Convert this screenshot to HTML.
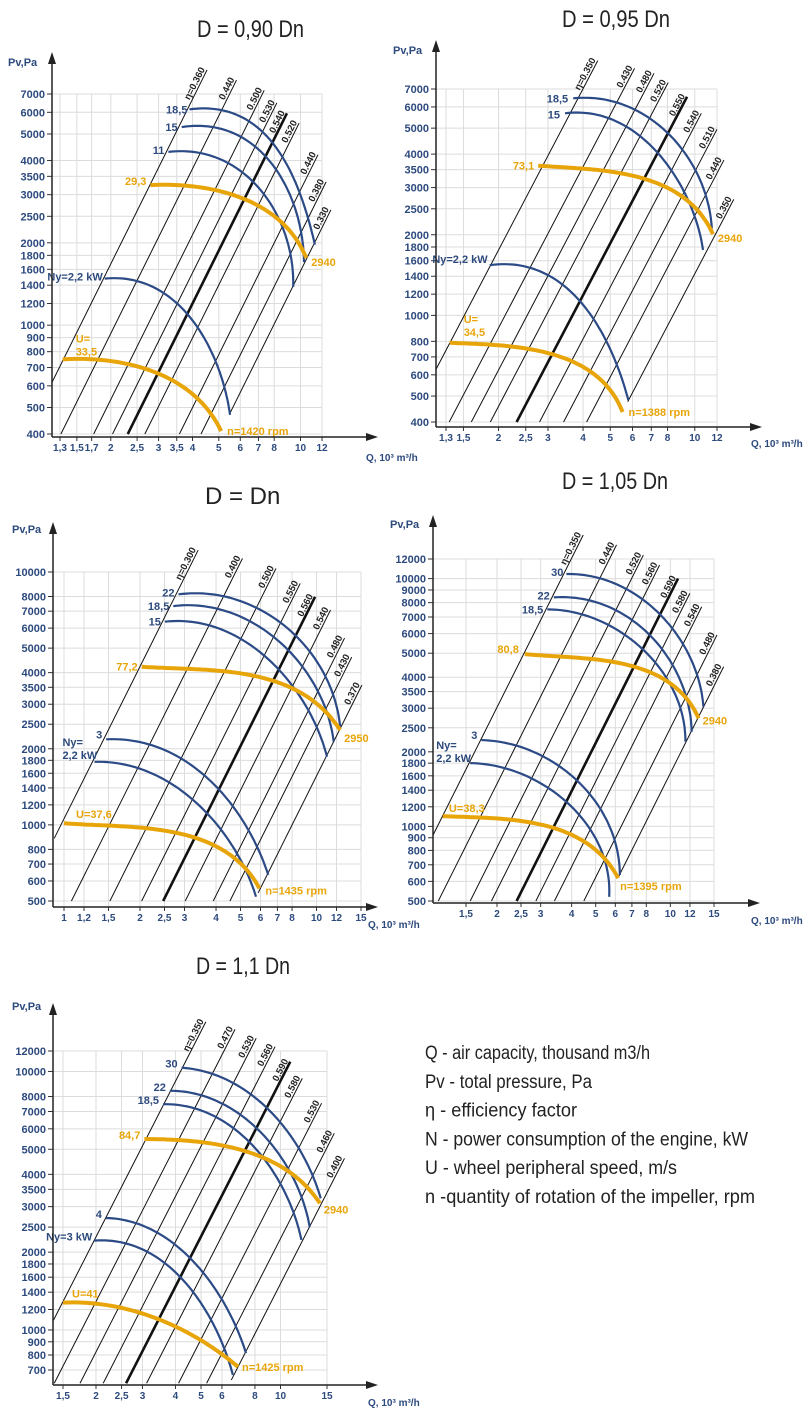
<!DOCTYPE html>
<html><head><meta charset="utf-8"><title>Fan performance charts</title>
<style>
html,body{margin:0;padding:0;background:#fff;}
svg{display:block;font-family:"Liberation Sans",sans-serif;}
</style></head>
<body>
<svg id="root" width="812" height="1418" viewBox="0 0 812 1418" xmlns="http://www.w3.org/2000/svg"></svg>
<script>
// ---------- DATA ----------
const c1_xTicks=[1.3,1.5,1.7,2,2.5,3,3.5,4,5,6,7,8,10,12];
const c1_yTicks=[400,500,600,700,800,900,1000,1200,1400,1600,1800,2000,2500,3000,3500,4000,5000,6000,7000];
const c1_effLabels=["η=0.360","0.440","0.500","0.530","0.540","0.520","0.440","0.380","0.330"];
const c1_effStartQ=[1.21,1.31,1.73,2.03,2.31,2.67,3.58,4.30,5.5];
const c1_effStartP=[613,400,400,400,400,400,400,400,477];
const c1_effEndP=[8570,7870,7220,6500,5950,5480,4200,3340,2640];
const c1_n185=[[3.9,6150],[5,6000],[6.7,5500],[8,4700],[9.4,3400],[10.5,2500],[11.3,1970]];
const c1_n15=[[3.65,5300],[5,5150],[7,4500],[8.5,3500],[9.7,2400],[10.3,1700]];
const c1_n11=[[3.26,4300],[4.5,4150],[6,3700],[7.5,3000],[8.7,2100],[9.4,1380]];
const c1_u293=[[2.8,3250],[4,3200],[6,2950],[8,2500],[9.5,2100],[10.5,1760]];
const c1_n22=[[1.9,1480],[2.5,1440],[3.2,1300],[4,1050],[4.8,750],[5.5,470]];
const c1_u335=[[1.33,750],[2,735],[3,670],[4,560],[4.6,480],[5.1,410]];

const c2_xTicks=[1.3,1.5,2,2.5,3,4,5,6,7,8,10,12];
const c2_yTicks=[400,500,600,700,800,1000,1200,1400,1600,1800,2000,2500,3000,3500,4000,5000,6000,7000];
const c2_effLabels=["η=0.350","0.430","0.480","0.520","0.550","0.540","0.510","0.440","0.350"];
const c2_effStartQ=[1.195,1.335,1.6,1.87,2.32,2.80,3.41,4.12,5.77];
const c2_effStartP=[626,400,400,400,400,400,400,400,476];
const c2_effEndP=[8930,8360,8010,7400,6550,5680,4950,3800,2710];
const c2_n185=[[3.69,6460],[5,6300],[7.1,5360],[8.5,4500],[9.9,3590],[11,2700],[11.5,2110]];
const c2_n15=[[3.45,5680],[5,5500],[7.1,4140],[8.5,3300],[9.9,2470],[10.7,1755]];
const c2_u731=[[2.77,3620],[4,3560],[5.25,3390],[7,3150],[8.4,2935],[10,2550],[11.6,2010]];
const c2_n22=[[1.86,1540],[2.8,1460],[3.89,1140],[4.6,900],[5.13,681],[5.8,483]];
const c2_u345=[[1.34,790],[2,775],[3.13,711],[4.36,608],[5,530],[5.53,436]];

const c3_xTicks=[1,1.2,1.5,2,2.5,3,4,5,6,7,8,10,12,15];
const c3_yTicks=[500,600,700,800,1000,1200,1400,1600,1800,2000,2500,3000,3500,4000,5000,6000,7000,8000,10000];
const c3_effLabels=["η=0.300","0.400","0.500","0.550","0.560","0.540","0.480","0.430","0.370"];
const c3_effStartQ=[0.915,1.07,1.52,2.03,2.47,3.02,3.9,4.54,5.87];
const c3_effStartP=[885,500,500,500,500,500,500,500,538];
const c3_effEndP=[12200,11320,10330,9010,7980,7080,5480,4610,3570];
const c3_n22=[[2.84,8160],[4.5,7900],[6.95,6460],[9,5200],[10.3,4220],[11.6,3200],[12.4,2450]];
const c3_n185=[[2.71,7330],[4.3,7100],[6.35,5720],[8.3,4600],[9.7,3630],[11.7,2130]];
const c3_n15=[[2.51,6360],[4,6150],[5.62,4910],[7.5,3900],[9.15,2930],[11,1860]];
const c3_u772=[[2.03,4220],[3.5,4130],[4.68,3970],[6.5,3780],[7.85,3520],[10,3000],[12.4,2370]];
const c3_n3=[[1.47,2180],[2.2,2080],[3.06,1750],[4,1450],[4.98,1080],[5.7,830],[6.44,634]];
const c3_n22kw=[[1.32,1775],[2,1690],[2.71,1415],[3.5,1170],[4.41,898],[5.76,520]];
const c3_u376=[[1,1015],[2,975],[2.79,927],[3.6,870],[4.41,771],[5.3,670],[5.94,561]];

const c4_xTicks=[1.5,2,2.5,3,4,5,6,7,8,10,12,15];
const c4_yTicks=[500,600,700,800,900,1000,1200,1400,1600,1800,2000,2500,3000,3500,4000,5000,6000,7000,8000,9000,10000,12000];
const c4_effLabels=["η=0.350","0.440","0.520","0.560","0.590","0.580","0.540","0.480","0.380"];
const c4_effStartQ=[1.105,1.16,1.56,1.9,2.40,2.87,3.41,4.48,6.2];
const c4_effStartP=[923,500,500,500,500,500,500,500,630];
const c4_effEndP=[15000,13680,12450,11350,10020,8720,7700,5920,4410];
const c4_n30=[[3.81,10440],[5.3,10000],[7.1,8720],[9.3,7000],[11.2,5480],[12.7,4200],[13.6,3040]];
const c4_n22=[[3.39,8400],[4.8,8100],[6.66,7020],[8.7,5700],[10.3,4410],[11.5,3300],[12.2,2410]];
const c4_n185=[[3.19,7510],[4.5,7250],[6.26,6010],[8,5000],[9.66,4010],[11,3000],[11.5,2200]];
const c4_u808=[[2.59,4960],[4,4850],[5.52,4620],[7.5,4330],[9.66,3900],[11.5,3350],[13,2730]];
const c4_n3=[[1.73,2230],[2.4,2150],[3.17,1850],[4.2,1520],[5.2,1240],[5.8,900],[6.26,637]];
const c4_n22kw=[[1.56,1800],[2.3,1720],[3.17,1400],[4.1,1170],[4.88,968],[5.4,720],[5.67,520]];
const c4_u383=[[1.21,1100],[2,1075],[2.81,1030],[3.7,960],[4.59,855],[5.4,750],[6.16,618]];

const c5_xTicks=[1.5,2,2.5,3,4,5,6,8,10,15];
const c5_yTicks=[700,800,900,1000,1200,1400,1600,1800,2000,2500,3000,3500,4000,5000,6000,7000,8000,10000,12000];
const c5_effLabels=["η=0.350","0.470","0.530","0.560","0.590","0.580","0.530","0.460","0.400"];
const c5_effStartQ=[1.38,1.39,1.74,2.13,2.60,3.11,4.11,5.25,6.51];
const c5_effStartP=[1090,622,622,622,622,622,622,622,640];
const c5_effEndP=[15570,14570,13440,12470,10910,9400,7540,5770,4610];
const c5_n30=[[4.22,10340],[5.5,9900],[7.22,8480],[9.3,6900],[11.2,5430],[12.9,4200],[14.2,3230]];
const c5_n22=[[3.81,8420],[5.3,8100],[7,6700],[9,5400],[10.6,4290],[12,3300],[12.9,2500]];
const c5_n185=[[3.59,7470],[5,7200],[6.62,5930],[8.4,4800],[9.93,3690],[11.2,2900],[12,2230]];
const c5_u847=[[3.05,5480],[4.5,5400],[6.25,5120],[8.3,4700],[10.6,4160],[12.5,3600],[14.1,3090]];
const c5_n4=[[2.18,2710],[3,2620],[3.92,2100],[5,1700],[5.9,1350],[6.8,1050],[7.4,813]];
const c5_n3kw=[[1.97,2215],[2.8,2150],[3.71,1760],[4.7,1380],[5.55,1060],[6.1,870],[6.6,670]];
const c5_u41=[[1.5,1275],[2.4,1240],[3.39,1090],[4.3,1000],[5.24,887],[6.1,800],[6.9,720]];

// ---------- RENDER ----------
const NS="http://www.w3.org/2000/svg";
const root=document.getElementById('root');
const BLUE="#2b4a86", LBL="#2d4a7d", ORANGE="#e8a50a";
function mk(tag,attrs,parent){const e=document.createElementNS(NS,tag);for(const k in attrs)e.setAttribute(k,attrs[k]);(parent||root).appendChild(e);return e;}
function fmt(v){return String(v).replace('.',',');}
// smooth least-squares cubic through pixel points (parametrized by chord length)
function solve(A,b){const n=b.length;for(let i=0;i<n;i++){let m=i;for(let r=i+1;r<n;r++)if(Math.abs(A[r][i])>Math.abs(A[m][i]))m=r;[A[i],A[m]]=[A[m],A[i]];[b[i],b[m]]=[b[m],b[i]];for(let r=i+1;r<n;r++){const f=A[r][i]/A[i][i];for(let c=i;c<n;c++)A[r][c]-=f*A[i][c];b[r]-=f*b[i];}}const x=new Array(n).fill(0);for(let i=n-1;i>=0;i--){let s=b[i];for(let c=i+1;c<n;c++)s-=A[i][c]*x[c];x[i]=s/A[i][i];}return x;}
function fit(ts,vs,deg){const n=deg+1;const A=[],b=[];for(let i=0;i<n;i++){A.push(new Array(n).fill(0));b.push(0);}
  ts.forEach((t,k)=>{const w=(k===0||k===ts.length-1)?30:1;for(let i=0;i<n;i++){for(let j=0;j<n;j++)A[i][j]+=w*Math.pow(t,i+j);b[i]+=w*vs[k]*Math.pow(t,i);}});return solve(A,b);}
function smoothPath(pts){
  const ts=[0];for(let i=1;i<pts.length;i++)ts.push(ts[i-1]+Math.hypot(pts[i][0]-pts[i-1][0],pts[i][1]-pts[i-1][1]));
  const T=ts[ts.length-1];const tn=ts.map(t=>t/T);
  const cx=fit(tn,pts.map(p=>p[0]),3),cy=fit(tn,pts.map(p=>p[1]),3);
  const ev=(c,t)=>c[0]+c[1]*t+c[2]*t*t+c[3]*t*t*t;
  let d="";for(let i=0;i<=60;i++){const t=i/60;d+=(i?" L":"M")+ev(cx,t).toFixed(1)+","+ev(cy,t).toFixed(1);}
  return {d,start:[ev(cx,0),ev(cy,0)],end:[ev(cx,1),ev(cy,1)]};
}
function drawChart(cfg){
  const g=mk('g',{});
  
  
  const X=q=>cfg.x0+(Math.log10(q)-Math.log10(cfg.q0))/(Math.log10(cfg.q1)-Math.log10(cfg.q0))*(cfg.x1-cfg.x0);
  const Y=p=>cfg.y0+(Math.log10(p)-Math.log10(cfg.p0))/(Math.log10(cfg.p1)-Math.log10(cfg.p0))*(cfg.y1-cfg.y0);
  const gx=X(cfg.xTicks[cfg.xTicks.length-1]), gy=Y(cfg.yTicks[cfg.yTicks.length-1]);
  const ta={x:cfg.tx,y:cfg.ty,'font-size':cfg.tfs||24,fill:'#222'};
  if(cfg.tw){ta.textLength=cfg.tw;ta.lengthAdjust='spacingAndGlyphs';}
  const t=mk('text',ta,g);
  t.textContent=cfg.title;
  
  
  const grid=mk('g',{stroke:'#dcdcdc','stroke-width':1},g);
  
  
  cfg.xTicks.forEach(q=>{mk('line',{x1:X(q),x2:X(q),y1:cfg.axY,y2:gy},grid);});
  cfg.yTicks.forEach(p=>{mk('line',{x1:cfg.axX,x2:gx,y1:Y(p),y2:Y(p)},grid);});
  const yl=mk('g',{fill:LBL,'font-size':11,'font-weight':'bold','text-anchor':'end'},g);
  
  
  cfg.yTicks.forEach(p=>{const tt=mk('text',{x:cfg.axX-7,y:Y(p)+4},yl);tt.textContent=p;mk('line',{x1:cfg.axX-5,x2:cfg.axX,y1:Y(p),y2:Y(p),stroke:'#333'},yl);});
  const xl=mk('g',{fill:LBL,'font-size':10,'font-weight':'bold','text-anchor':'middle'},g);
  
  
  cfg.xTicks.forEach(q=>{const tt=mk('text',{x:X(q),y:cfg.axY+14},xl);tt.textContent=fmt(q);mk('line',{x1:X(q),x2:X(q),y1:cfg.axY,y2:cfg.axY+4,stroke:'#333'},xl);});
  const el=mk('g',{},g);
  
  
  cfg.effLabels.forEach((lab,i)=>{
    const qs=cfg.effStartQ[i],ps=cfg.effStartP[i],pe=cfg.effEndP[i];
    const qe=qs*Math.sqrt(pe/ps);
    const xa=X(qs),ya=Y(ps),xb=X(qe),yb=Y(pe);
    const thick=(i===cfg.thick);
    const ln=mk('line',{x1:xa,y1:ya,x2:xb,y2:yb,stroke:'#111','stroke-width':thick?2.6:1},el);
    
    
    const ang=Math.atan2(yb-ya,xb-xa)*180/Math.PI;
    const tx=mk('text',{x:xb,y:yb,'font-size':9.5,'font-weight':'bold',fill:'#222','text-anchor':'end',transform:'rotate('+ang.toFixed(1)+' '+xb.toFixed(1)+' '+yb.toFixed(1)+') translate(0,-2)'},el);
    tx.textContent=lab;
    
    
  });
  cfg.curves.forEach(c=>{
    const pts=c.pts.map(d=>[X(d[0]),Y(d[1])]);
    const orange=c.kind==='u';
    const sp=smoothPath(pts);
    const p=mk('path',{d:sp.d,fill:'none',stroke:orange?ORANGE:BLUE,'stroke-width':orange?4:2.2},g);
    
    
    (c.labels||[]).forEach(L=>{
      const base=L.at==='end'?sp.end:sp.start;
      L.lines.forEach((s,k)=>{
        const tt=mk('text',{x:base[0]+L.dx,y:base[1]+L.dy+k*13,'font-size':11,'font-weight':'bold',fill:orange?ORANGE:LBL,'text-anchor':L.anchor||'end'},g);
        tt.textContent=s;
        
        
      });
    });
  });
  const ax=mk('g',{stroke:'#222','stroke-width':1.5,fill:'#222'},g);
  
  
  mk('line',{x1:cfg.axX,y1:cfg.axY,x2:cfg.axX,y2:cfg.topY+8},ax);
  mk('path',{d:`M${cfg.axX-4},${cfg.topY+12} L${cfg.axX},${cfg.topY} L${cfg.axX+4},${cfg.topY+12} Z`,stroke:'none'},ax);
  mk('line',{x1:cfg.axX,y1:cfg.axY,x2:cfg.rightX-8,y2:cfg.axY},ax);
  mk('path',{d:`M${cfg.rightX-12},${cfg.axY-4} L${cfg.rightX},${cfg.axY} L${cfg.rightX-12},${cfg.axY+4} Z`,stroke:'none'},ax);
  const yt=mk('text',{x:cfg.pvx,y:cfg.pvy,'font-size':11,'font-weight':'bold',fill:LBL},g);
  yt.textContent="Pv,Pa";
  
  
  const xt=mk('text',{x:cfg.qx,y:cfg.qy,'font-size':10,'font-weight':'bold',fill:LBL},g);
  xt.textContent="Q, 10³ m³/h";
  
  
}
const L=(lines,dx,dy,at,anchor)=>({lines,dx,dy,at:at||'start',anchor});

drawChart({name:'chart-d090',title:'D = 0,90 Dn',tx:197,ty:37,tw:107,
  q0:1.3,q1:12,x0:60,x1:322,p0:400,p1:7000,y0:434,y1:94,axX:52,axY:437,topY:52,rightX:378,
  pvx:8,pvy:66,qx:366,qy:461,xTicks:c1_xTicks,yTicks:c1_yTicks,
  effLabels:c1_effLabels,effStartQ:c1_effStartQ,effStartP:c1_effStartP,effEndP:c1_effEndP,thick:4,
  curves:[
   {id:'curve-n18-5',kind:'n',pts:c1_n185,labels:[L(['18,5'],-2,4)]},
   {id:'curve-n15',kind:'n',pts:c1_n15,labels:[L(['15'],-4,4)]},
   {id:'curve-n11',kind:'n',pts:c1_n11,labels:[L(['11'],-4,2)]},
   {id:'curve-u29-3',kind:'u',pts:c1_u293,labels:[L(['29,3'],-4,0),L(['2940'],5,8,'end','start')]},
   {id:'curve-n2-2',kind:'n',pts:c1_n22,labels:[L(['Ny=2,2 kW'],-2,2)]},
   {id:'curve-u33-5',kind:'u',pts:c1_u335,labels:[L(['U=','33,5'],13,-17,'start','start'),L(['n=1420 rpm'],6,4,'end','start')]}
  ]});
drawChart({name:'chart-d095',title:'D = 0,95 Dn',tx:562,ty:27,tw:108,
  q0:1.3,q1:12,x0:446,x1:717,p0:400,p1:7000,y0:422,y1:89,axX:436,axY:427,topY:40,rightX:762,
  pvx:393,pvy:54,qx:751,qy:447,xTicks:c2_xTicks,yTicks:c2_yTicks,
  effLabels:c2_effLabels,effStartQ:c2_effStartQ,effStartP:c2_effStartP,effEndP:c2_effEndP,thick:4,
  curves:[
   {id:'curve-n18-5',kind:'n',pts:c2_n185,labels:[L(['18,5'],-5,4)]},
   {id:'curve-n15',kind:'n',pts:c2_n15,labels:[L(['15'],-5,5)]},
   {id:'curve-u73-1',kind:'u',pts:c2_u731,labels:[L(['73,1'],-4,4),L(['2940'],5,8,'end','start')]},
   {id:'curve-n2-2',kind:'n',pts:c2_n22,labels:[L(['Ny=2,2 kW'],-2,-2)]},
   {id:'curve-u34-5',kind:'u',pts:c2_u345,labels:[L(['U=','34,5'],14,-20,'start','start'),L(['n=1388 rpm'],6,4,'end','start')]}
  ]});
drawChart({name:'chart-d100',title:'D = Dn',tx:205,ty:504,tfs:24,
  q0:1,q1:15,x0:64,x1:361,p0:500,p1:10000,y0:901,y1:572,axX:53,axY:907,topY:522,rightX:378,
  pvx:12,pvy:533,qx:368,qy:928,xTicks:c3_xTicks,yTicks:c3_yTicks,
  effLabels:c3_effLabels,effStartQ:c3_effStartQ,effStartP:c3_effStartP,effEndP:c3_effEndP,thick:4,
  curves:[
   {id:'curve-n22',kind:'n',pts:c3_n22,labels:[L(['22'],-4,2)]},
   {id:'curve-n18-5',kind:'n',pts:c3_n185,labels:[L(['18,5'],-4,4)]},
   {id:'curve-n15',kind:'n',pts:c3_n15,labels:[L(['15'],-4,4)]},
   {id:'curve-u77-2',kind:'u',pts:c3_u772,labels:[L(['77,2'],-4,4),L(['2950'],4,12,'end','start')]},
   {id:'curve-n3',kind:'n',pts:c3_n3,labels:[L(['3'],-4,-1)]},
   {id:'curve-n2-2',kind:'n',pts:c3_n22kw,labels:[L(['Ny=','2,2 kW'],-32,-16,'start','start')]},
   {id:'curve-u37-6',kind:'u',pts:c3_u376,labels:[L(['U=37,6'],12,-5,'start','start'),L(['n=1435 rpm'],6,6,'end','start')]}
  ]});
drawChart({name:'chart-d105',title:'D = 1,05 Dn',tx:562,ty:489,tw:106,
  q0:1.5,q1:15,x0:466,x1:714,p0:500,p1:12000,y0:901,y1:559,axX:433,axY:903,topY:515,rightX:760,
  pvx:390,pvy:528,qx:751,qy:924,xTicks:c4_xTicks,yTicks:c4_yTicks,
  effLabels:c4_effLabels,effStartQ:c4_effStartQ,effStartP:c4_effStartP,effEndP:c4_effEndP,thick:4,
  curves:[
   {id:'curve-n30',kind:'n',pts:c4_n30,labels:[L(['30'],-3,2)]},
   {id:'curve-n22',kind:'n',pts:c4_n22,labels:[L(['22'],-4,2)]},
   {id:'curve-n18-5',kind:'n',pts:c4_n185,labels:[L(['18,5'],-4,4)]},
   {id:'curve-u80-8',kind:'u',pts:c4_u808,labels:[L(['80,8'],-6,-1),L(['2940'],4,6,'end','start')]},
   {id:'curve-n3',kind:'n',pts:c4_n3,labels:[L(['3'],-4,-1)]},
   {id:'curve-n2-2',kind:'n',pts:c4_n22kw,labels:[L(['Ny=','2,2 kW'],-34,-14,'start','start')]},
   {id:'curve-u38-3',kind:'u',pts:c4_u383,labels:[L(['U=38,3'],6,-4,'start','start'),L(['n=1395 rpm'],2,12,'end','start')]}
  ]});
drawChart({name:'chart-d110',title:'D = 1,1 Dn',tx:196,ty:974,tw:94,
  q0:1.5,q1:15,x0:63,x1:327,p0:700,p1:12000,y0:1370,y1:1051,axX:53,axY:1385,topY:1003,rightX:378,
  pvx:12,pvy:1010,qx:368,qy:1406,xTicks:c5_xTicks,yTicks:c5_yTicks,
  effLabels:c5_effLabels,effStartQ:c5_effStartQ,effStartP:c5_effStartP,effEndP:c5_effEndP,thick:4,
  curves:[
   {id:'curve-n30',kind:'n',pts:c5_n30,labels:[L(['30'],-4,0)]},
   {id:'curve-n22',kind:'n',pts:c5_n22,labels:[L(['22'],-4,0)]},
   {id:'curve-n18-5',kind:'n',pts:c5_n185,labels:[L(['18,5'],-4,0)]},
   {id:'curve-u84-7',kind:'u',pts:c5_u847,labels:[L(['84,7'],-4,0),L(['2940'],4,10,'end','start')]},
   {id:'curve-n4',kind:'n',pts:c5_n4,labels:[L(['4'],-4,0)]},
   {id:'curve-n3',kind:'n',pts:c5_n3kw,labels:[L(['Ny=3 kW'],-2,0)]},
   {id:'curve-u41',kind:'u',pts:c5_u41,labels:[L(['U=41'],9,-5,'start','start'),L(['n=1425 rpm'],4,4,'end','start')]}
  ]});

const legendItems=["Q - air capacity, thousand m3/h","Pv - total pressure, Pa","η - efficiency factor","N - power consumption of the engine, kW","U - wheel peripheral speed, m/s","n -quantity of rotation of the impeller, rpm"];
const legendWidths=[225,167,152,323,252,330];
const lg=mk('g',{'font-size':19,fill:'#222'});


legendItems.forEach((s,i)=>{
  const t=mk('text',{x:425,y:1059+i*28.8,textLength:legendWidths[i],lengthAdjust:'spacingAndGlyphs'},lg);
  t.textContent=s;
  
  
});
</script>
</body></html>
